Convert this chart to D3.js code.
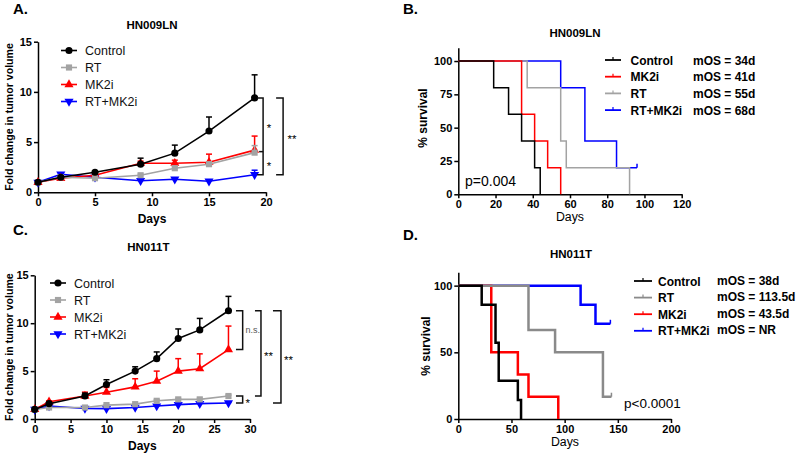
<!DOCTYPE html>
<html>
<head>
<meta charset="utf-8">
<script src="https://cdn.jsdelivr.net/npm/d3@7"></script>
<style>
  body { margin: 0; background: #fff; }
  svg { display: block; font-family: "Liberation Sans", Arial, sans-serif; }
  .axis path, .axis line { stroke: #000; stroke-width: 1.5; }
  .axis text { font-size: 11px; font-weight: bold; fill: #000; }
</style>
</head>
<body>
<svg id="fig" width="800" height="456"></svg>
<script>
// ---- data: tumor growth, HN009LN (A)
const daysA = [0, 2, 5, 9, 12, 15, 19];
const controlA = [1.0, 1.5, 2.0, 2.8, 3.9, 6.1, 9.4];
const controlErrA = [0, 0.15, 0.1, 0.6, 0.8, 1.4, 2.3];
const rtA = [1.0, 1.5, 1.4, 1.7, 2.4, 2.8, 3.95];
const rtErrA = [0, 0.1, 0.1, 0.1, 0.2, 0.2, 0.7];
const mk2iA = [1.0, 1.4, 1.7, 2.9, 2.9, 3.0, 4.2];
const mk2iErrA = [0, 0.1, 0.1, 0.2, 0.3, 0.8, 1.4];
const comboA = [1.0, 1.8, 1.5, 1.15, 1.3, 1.1, 1.75];
const comboErrA = [0, 0.15, 0.1, 0.1, 0.1, 0.1, 0.45];

// ---- data: tumor growth, HN011T (C)
const daysC = [0, 2, 7, 10, 14, 17, 20, 23, 27];
const controlC = [1.0, 1.6, 2.4, 3.6, 5.0, 6.3, 8.4, 9.3, 11.3];
const controlErrC = [0, 0.1, 0.3, 0.5, 0.45, 0.7, 1.0, 1.2, 1.5];
const rtC = [1.0, 1.2, 1.2, 1.45, 1.55, 1.9, 2.05, 2.05, 2.4];
const rtErrC = [0, 0.05, 0.05, 0.05, 0.05, 0.1, 0.1, 0.1, 0.1];
const mk2iC = [1.0, 1.8, 2.4, 2.8, 3.35, 3.95, 5.0, 5.25, 7.25];
const mk2iErrC = [0, 0.1, 0.4, 0.5, 0.85, 1.05, 1.3, 1.55, 2.45];
const comboC = [1.0, 1.35, 1.1, 1.08, 1.2, 1.35, 1.5, 1.6, 1.67];
const comboErrC = [0, 0.05, 0.05, 0.05, 0.05, 0.05, 0.05, 0.05, 0.05];

// ---- data: survival, HN009LN (B)  time (days) / % survival
const controlTimeB = [0, 19, 27, 34, 41, 44];
const controlSurvB = [100, 80, 60, 40, 20, 0];
const mk2iTimeB = [0, 34, 41, 48, 55];
const mk2iSurvB = [100, 60, 40, 20, 0];
const rtTimeB = [0, 37, 55, 58, 92];
const rtSurvB = [100, 80, 40, 20, 0];
const comboTimeB = [0, 55, 68, 85, 96];
const comboSurvB = [100, 80, 40, 20, 20];
const mosB = ['mOS = 34d', 'mOS = 41d', 'mOS = 55d', 'mOS = 68d'];

// ---- data: survival, HN011T (D)
const controlTimeD = [0, 22, 35, 38, 56, 59];
const controlSurvD = [100, 85.7, 57.1, 28.6, 14.3, 0];
const rtTimeD = [0, 66, 91, 136, 144];
const rtSurvD = [100, 66.7, 50, 16.7, 16.7];
const mk2iTimeD = [0, 31, 56, 66, 94];
const mk2iSurvD = [100, 50, 33.3, 16.7, 0];
const comboTimeD = [0, 115, 129, 143];
const comboSurvD = [100, 85.7, 71.4, 71.4];
const mosD = ['mOS = 38d', 'mOS = 113.5d', 'mOS = 43.5d', 'mOS = NR'];

const colors = {'Control': '#000000', 'RT': '#a3a3a3', 'MK2i': '#ff0000', 'RT+MK2i': '#0000ff'};
const symbols = {
  'Control': {type: d3.symbolCircle, size: 40, rot: 0},
  'RT': {type: d3.symbolSquare, size: 38, rot: 0},
  'MK2i': {type: d3.symbolTriangle, size: 36, rot: 0},
  'RT+MK2i': {type: d3.symbolTriangle, size: 36, rot: 180}
};

const svg = d3.select('#fig');
svg.append('rect').attr('width', 800).attr('height', 456).attr('fill', '#fff');

function zip(names, vals, errs) {
  return names.map((n, i) => ({name: n, values: vals[i], err: errs[i]}));
}

function drawGrowth(p) {
  let x = d3.scaleLinear().domain(p.xDomain).range([p.left, p.right]);
  let y = d3.scaleLinear().domain([0, 15]).range([p.bottom, p.top]);

  svg.append('g').attr('class', 'axis')
     .attr('transform', 'translate(0,' + p.bottom + ')')
     .call(d3.axisBottom(x).tickValues(p.xTicks).tickSize(4).tickSizeOuter(0).tickPadding(2));
  svg.append('g').attr('class', 'axis')
     .attr('transform', 'translate(' + p.left + ',0)')
     .call(d3.axisLeft(y).tickValues([0, 5, 10, 15]).tickSize(4).tickSizeOuter(0).tickPadding(2));

  let line = d3.line().x((d) => x(d[0])).y((d) => y(d[1]));

  // last series drawn first so Control ends on top
  p.series.slice().reverse().forEach((s) => {
    let col = colors[s.name];
    let pts = p.days.map((d, i) => [d, s.values[i], s.err[i]]);
    let g = svg.append('g');
    pts.filter((d) => d[2] > 0).forEach((d) => {
      g.append('line').attr('x1', x(d[0])).attr('x2', x(d[0]))
       .attr('y1', y(d[1])).attr('y2', y(d[1] + d[2]))
       .attr('stroke', col).attr('stroke-width', 1.5);
      g.append('line').attr('x1', x(d[0]) - 3).attr('x2', x(d[0]) + 3)
       .attr('y1', y(d[1] + d[2])).attr('y2', y(d[1] + d[2]))
       .attr('stroke', col).attr('stroke-width', 1.5);
    });
    g.append('path').attr('d', line(pts)).attr('fill', 'none')
     .attr('stroke', col).attr('stroke-width', 1.6);
    let sym = symbols[s.name];
    g.selectAll('path.mk').data(pts).enter().append('path').attr('class', 'mk')
     .attr('d', d3.symbol().type(sym.type).size(sym.size))
     .attr('transform', (d) => 'translate(' + x(d[0]) + ',' + y(d[1]) + ') rotate(' + sym.rot + ')')
     .attr('fill', col);
  });

  // legend
  p.series.forEach((s, i) => {
    let ly = p.legY + i * p.legStep;
    let col = colors[s.name];
    let sym = symbols[s.name];
    svg.append('line').attr('x1', p.legX).attr('x2', p.legX + 16).attr('y1', ly).attr('y2', ly)
       .attr('stroke', col).attr('stroke-width', 1.6);
    svg.append('path').attr('d', d3.symbol().type(sym.type).size(sym.size)())
       .attr('transform', 'translate(' + (p.legX + 8) + ',' + ly + ') rotate(' + sym.rot + ')')
       .attr('fill', col);
    svg.append('text').attr('x', p.legX + 24).attr('y', ly + 4.5)
       .attr('font-size', 12.5).attr('fill', '#111').text(s.name);
  });

  // significance brackets
  let xl = x(p.days[p.days.length - 1]);
  p.brackets.forEach((b) => {
    let y1 = y(b.from), y2 = y(b.to);
    let bx = xl + b.off;
    svg.append('path')
       .attr('d', 'M' + (bx - b.w) + ',' + y1 + 'H' + bx + 'V' + y2 + 'H' + (bx - b.w))
       .attr('fill', 'none').attr('stroke', '#111').attr('stroke-width', 1.5);
    if (b.mid !== undefined) {
      svg.append('line').attr('x1', bx - 4).attr('x2', bx).attr('y1', y(b.mid)).attr('y2', y(b.mid))
         .attr('stroke', '#111').attr('stroke-width', 1.5);
    }
    (b.labels || [{lo: b.from, hi: b.to}]).forEach((l) => {
      let ym = (y(l.lo) + y(l.hi)) / 2;
      svg.append('text').attr('x', bx + b.tx).attr('y', ym + (b.text === 'n.s.' ? 3 : 7))
         .attr('text-anchor', 'middle')
         .attr('font-size', b.text === 'n.s.' ? 9 : 11.5)
         .attr('fill', b.text === 'n.s.' ? '#555' : '#000')
         .text(b.text);
    });
  });

  // titles and labels
  svg.append('text').attr('x', p.letterX).attr('y', p.letterY).attr('font-size', 15)
     .attr('font-weight', 'bold').text(p.letter);
  svg.append('text').attr('x', (p.left + p.right) / 2 + p.titleDx).attr('y', p.titleY)
     .attr('text-anchor', 'middle').attr('font-size', 11.5).attr('font-weight', 'bold').text(p.title);
  svg.append('text').attr('x', (p.left + p.right) / 2).attr('y', p.bottom + 31)
     .attr('text-anchor', 'middle').attr('font-size', 12).attr('font-weight', 'bold').text('Days');
  svg.append('text').attr('transform', 'translate(13,' + (p.top + p.bottom) / 2 + ') rotate(-90)')
     .attr('text-anchor', 'middle').attr('font-size', 10.6).attr('font-weight', 'bold')
     .text('Fold change in tumor volume');
}

function drawSurv(p) {
  let x = d3.scaleLinear().domain(p.xDomain).range([p.left, p.right]);
  let y = d3.scaleLinear().domain([0, 110]).range([p.bottom, p.top]);
  let pal = Object.assign({}, colors, p.colorOverride || {});

  svg.append('g').attr('class', 'axis')
     .attr('transform', 'translate(0,' + p.bottom + ')')
     .call(d3.axisBottom(x).tickValues(p.xTicks).tickSize(4).tickSizeOuter(0).tickPadding(2));
  svg.append('g').attr('class', 'axis')
     .attr('transform', 'translate(' + p.left + ',0)')
     .call(d3.axisLeft(y).tickValues(p.yTicks).tickSize(4).tickSizeOuter(0).tickPadding(2));

  let step = d3.line().x((d) => x(d[0])).y((d) => y(d[1])).curve(d3.curveStepAfter);

  p.curves.slice().reverse().forEach((c) => {
    let col = pal[c.name];
    let pts = c.t.map((t, i) => [t, c.s[i]]);
    svg.append('path').attr('d', step(pts)).attr('fill', 'none')
       .attr('stroke', col).attr('stroke-width', p.lw);
    let last = pts[pts.length - 1];
    if (last[1] > 0) {
      svg.append('line').attr('x1', x(last[0])).attr('x2', x(last[0]))
         .attr('y1', y(last[1])).attr('y2', y(last[1]) - 4)
         .attr('stroke', col).attr('stroke-width', 1.5);
    }
  });

  p.legend.forEach((name, i) => {
    let ly = p.legY + i * p.legStep;
    let col = pal[name];
    svg.append('line').attr('x1', p.legX).attr('x2', p.legX + p.legW).attr('y1', ly).attr('y2', ly)
       .attr('stroke', col).attr('stroke-width', 1.8);
    svg.append('line').attr('x1', p.legX + p.legW / 2).attr('x2', p.legX + p.legW / 2)
       .attr('y1', ly).attr('y2', ly - 3).attr('stroke', col).attr('stroke-width', 1.2);
    svg.append('text').attr('x', p.legTextX).attr('y', ly + 4.5).attr('font-size', 12)
       .attr('font-weight', 'bold').text(name);
    svg.append('text').attr('x', p.mosX).attr('y', ly + 4.5 + p.mosDy).attr('font-size', 12)
       .attr('font-weight', 'bold').text(p.mos[i]);
  });

  svg.append('text').attr('x', p.pX).attr('y', p.pY).attr('font-size', p.pSize).text(p.pText);

  svg.append('text').attr('x', p.letterX).attr('y', p.letterY).attr('font-size', 15)
     .attr('font-weight', 'bold').text(p.letter);
  svg.append('text').attr('x', p.titleX).attr('y', p.titleY)
     .attr('text-anchor', 'middle').attr('font-size', 11.5).attr('font-weight', 'bold').text(p.title);
  svg.append('text').attr('x', p.daysX).attr('y', p.daysY)
     .attr('text-anchor', 'middle').attr('font-size', 12.3).text('Days');
  svg.append('text').attr('transform', 'translate(' + p.labX + ',' + p.labY + ') rotate(-90)')
     .attr('text-anchor', 'middle').attr('font-size', 12).attr('font-weight', 'bold').text('% survival');
}

const groups = ['Control', 'RT', 'MK2i', 'RT+MK2i'];

drawGrowth({
  days: daysA, xDomain: [0, 20], xTicks: [0, 5, 10, 15, 20],
  left: 38, right: 266, top: 41.7, bottom: 192.3,
  series: zip(groups, [controlA, rtA, mk2iA, comboA], [controlErrA, rtErrA, mk2iErrA, comboErrA]),
  legX: 61, legY: 50.5, legStep: 17,
  brackets: [
    {from: controlA[6], to: comboA[6], mid: 4.05, off: 8.5, w: 6, tx: 6, text: '*',
     labels: [{lo: controlA[6], hi: 4.05}, {lo: 4.05, hi: comboA[6]}]},
    {from: controlA[6], to: comboA[6], off: 28.5, w: 7, tx: 9, text: '**'}
  ],
  letter: 'A.', letterX: 13, letterY: 14, title: 'HN009LN', titleY: 29, titleDx: 0
});

drawGrowth({
  days: daysC, xDomain: [0, 30], xTicks: [0, 5, 10, 15, 20, 25, 30],
  left: 34.7, right: 250, top: 275.3, bottom: 419,
  series: zip(groups, [controlC, rtC, mk2iC, comboC], [controlErrC, rtErrC, mk2iErrC, comboErrC]),
  legX: 50, legY: 283, legStep: 17,
  brackets: [
    {from: controlC[8], to: mk2iC[8], off: 14.2, w: 6.7, tx: 10, text: 'n.s.'},
    {from: rtC[8], to: comboC[8], off: 14.2, w: 6.7, tx: 5, text: '*'},
    {from: controlC[8], to: rtC[8], off: 32.5, w: 6, tx: 7.5, text: '**'},
    {from: controlC[8], to: comboC[8], off: 52.5, w: 8, tx: 7.5, text: '**'}
  ],
  letter: 'C.', letterX: 13, letterY: 235, title: 'HN011T', titleY: 251, titleDx: 6
});

drawSurv({
  xDomain: [0, 120], xTicks: [0, 20, 40, 60, 80, 100, 120], yTicks: [0, 25, 50, 75, 100],
  left: 458.3, right: 681.7, top: 47.7, bottom: 194.3, lw: 1.5,
  curves: [
    {name: 'Control', t: controlTimeB, s: controlSurvB},
    {name: 'MK2i', t: mk2iTimeB, s: mk2iSurvB},
    {name: 'RT', t: rtTimeB, s: rtSurvB},
    {name: 'RT+MK2i', t: comboTimeB, s: comboSurvB}
  ],
  legend: ['Control', 'MK2i', 'RT', 'RT+MK2i'], mos: mosB,
  legX: 605, legW: 16, legY: 60, legStep: 16.7, legTextX: 630.5, mosX: 693, mosDy: 0,
  pText: 'p=0.004', pX: 465, pY: 185.5, pSize: 14,
  letter: 'B.', letterX: 403, letterY: 14, title: 'HN009LN', titleX: 575, titleY: 37,
  daysX: 570, daysY: 221, labX: 427, labY: 118
});

drawSurv({
  xDomain: [0, 200], xTicks: [0, 50, 100, 150, 200], yTicks: [0, 50, 100],
  left: 458.3, right: 671, top: 272.3, bottom: 419, lw: 2.5,
  colorOverride: {'RT': '#8a8a8a'},
  curves: [
    {name: 'Control', t: controlTimeD, s: controlSurvD},
    {name: 'RT', t: rtTimeD, s: rtSurvD},
    {name: 'MK2i', t: mk2iTimeD, s: mk2iSurvD},
    {name: 'RT+MK2i', t: comboTimeD, s: comboSurvD}
  ],
  legend: ['Control', 'RT', 'MK2i', 'RT+MK2i'], mos: mosD,
  legX: 634, legW: 18, legY: 281, legStep: 16.6, legTextX: 658, mosX: 717, mosDy: -1,
  pText: 'p<0.0001', pX: 624, pY: 408, pSize: 13.5,
  letter: 'D.', letterX: 403, letterY: 240, title: 'HN011T', titleX: 571, titleY: 258,
  daysX: 565, daysY: 446, labX: 430, labY: 346
});
</script>
</body>
</html>
